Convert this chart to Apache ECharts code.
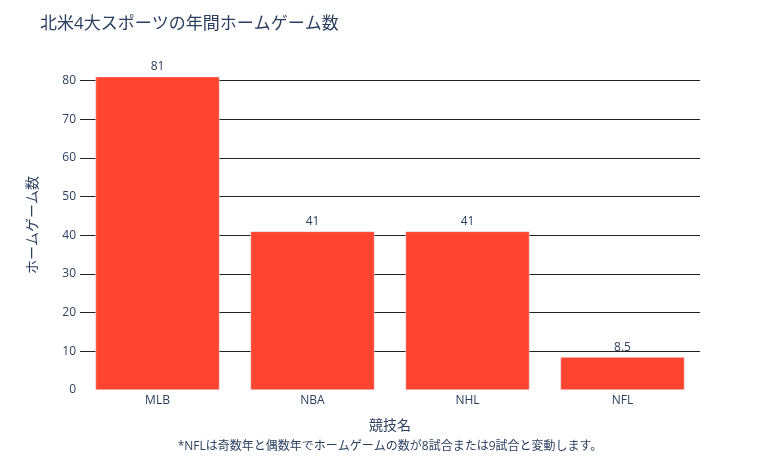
<!DOCTYPE html>
<html>
<head>
<meta charset="utf-8">
<script src="https://cdn.jsdelivr.net/npm/echarts@6/dist/echarts.min.js"></script>
<style>
  html, body { margin: 0; padding: 0; background: #fff; }
</style>
</head>
<body>
<div id="main" style="width: 780px;height:470px;"></div>
<script>
const categories = ['MLB', 'NBA', 'NHL', 'NFL']
const homeGames = [81, 41, 41, 8.5]
const yTicks = [0, 10, 20, 30, 40, 50, 60, 70, 80]

const font = '"Open Sans", "Noto Sans CJK JP", sans-serif'
const textColor = '#2a3f5f'

var myChart = echarts.init(document.getElementById('main'))

var option = {
  animation: false,
  textStyle: { fontFamily: font },
  title: {
    text: '北米4大スポーツの年間ホームゲーム数',
    left: 35,
    top: 11,
    textStyle: { fontFamily: font, fontSize: 17, fontWeight: 'normal', color: textColor }
  },
  grid: { left: 80, right: 80, top: 60, bottom: 80 },
  xAxis: {
    type: 'category',
    data: categories,
    name: '競技名',
    nameLocation: 'middle',
    nameGap: 29,
    nameTextStyle: { fontFamily: font, fontSize: 14, color: textColor },
    axisLine: { show: false },
    axisTick: { show: false },
    axisLabel: { fontFamily: font, fontSize: 12, color: textColor, margin: 5 }
  },
  yAxis: {
    type: 'value',
    min: yTicks[0],
    max: 85.3,
    interval: 10,
    name: 'ホームゲーム数',
    nameLocation: 'middle',
    nameGap: 40,
    nameTextStyle: { fontFamily: font, fontSize: 14, color: textColor },
    axisLine: { show: false },
    axisTick: { show: false },
    axisLabel: {
      fontFamily: font,
      fontSize: 12,
      color: textColor,
      margin: 4,
      showMaxLabel: false,
      formatter: function (v) { return yTicks.indexOf(v) >= 0 ? String(v) : '' }
    },
    splitLine: {
      show: true,
      showMinLine: false,
      showMaxLine: false,
      lineStyle: { color: '#222', width: 1 }
    }
  },
  series: [
    {
      type: 'bar',
      data: homeGames,
      barCategoryGap: '20%',
      itemStyle: { color: '#ff4530', borderColor: '#E5ECF6', borderWidth: 0.5 },
      label: {
        show: true,
        position: 'top',
        distance: 4,
        fontFamily: font,
        fontSize: 12,
        color: textColor
      }
    }
  ],
  graphic: [
    {
      type: 'text',
      left: 'center',
      top: 441,
      style: {
        text: '*NFLは奇数年と偶数年でホームゲームの数が8試合または9試合と変動します。',
        fontFamily: font,
        fontSize: 12,
        fill: textColor
      }
    }
  ]
}

myChart.setOption(option)
</script>
</body>
</html>
